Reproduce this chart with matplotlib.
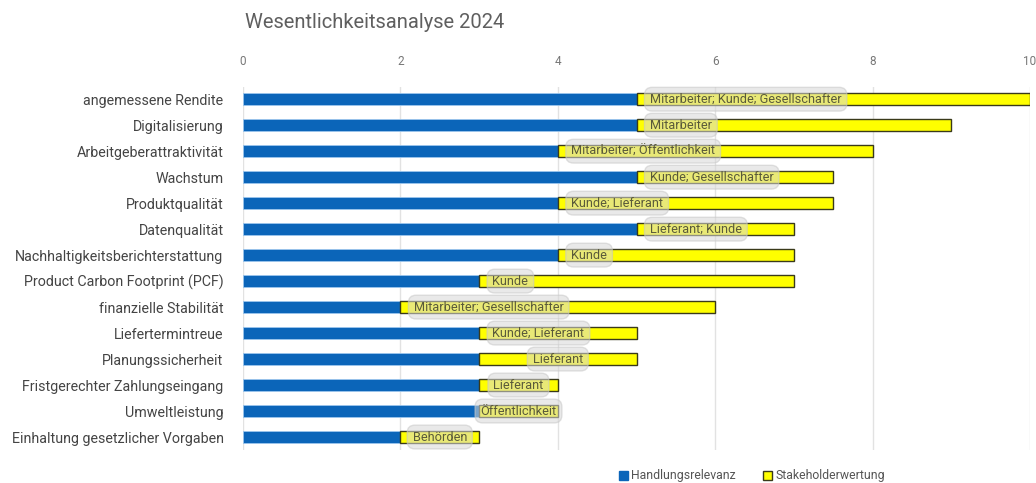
#!/usr/bin/env python3

import matplotlib
matplotlib.use('Agg')
from matplotlib import pyplot as plt
from matplotlib.patches import Patch

### data
themen = ['angemessene Rendite', 'Digitalisierung', 'Arbeitgeberattraktivität',
          'Wachstum', 'Produktqualität', 'Datenqualität',
          'Nachhaltigkeitsberichterstattung', 'Product Carbon Footprint (PCF)',
          'finanzielle Stabilität', 'Liefertermintreue', 'Planungssicherheit',
          'Fristgerechter Zahlungseingang', 'Umweltleistung',
          'Einhaltung gesetzlicher Vorgaben']
handlungsrelevanz = [5, 5, 4, 5, 4, 5, 4, 3, 2, 3, 3, 3, 3, 2]
stakeholderwertung = [5, 4, 4, 2.5, 3.5, 2, 3, 4, 4, 2, 2, 1, 1, 1]
stakeholder = ['Mitarbeiter; Kunde; Gesellschafter', 'Mitarbeiter',
               'Mitarbeiter; Öffentlichkeit', 'Kunde; Gesellschafter',
               'Kunde; Lieferant', 'Lieferant; Kunde', 'Kunde', 'Kunde',
               'Mitarbeiter; Gesellschafter', 'Kunde; Lieferant', 'Lieferant',
               'Lieferant', 'Öffentlichkeit', 'Behörden']
# where the label sits on the yellow segment
label_pos = ['left', 'left', 'left', 'left', 'left', 'left', 'left', 'left',
             'left', 'left', 'center', 'center', 'center', 'center']
xticks = [0, 2, 4, 6, 8, 10]

BLUE = '#0b65b9'
YELLOW = '#ffff00'
GREY = '#5f5f5f'

plt.rcParams['font.family'] = ['Roboto', 'DejaVu Sans']

fig = plt.figure(figsize=(10.36, 4.83), dpi=100)
ax = fig.add_axes([243 / 1036, 1 - 450 / 483, 787 / 1036, 363 / 483])

ypos = list(range(len(themen)))
ax.barh(ypos, handlungsrelevanz, height=0.45, color=BLUE,
        edgecolor='#9cc6ee', linewidth=0.6, zorder=2)
ax.barh(ypos, stakeholderwertung, left=handlungsrelevanz, height=0.45,
        color=YELLOW, edgecolor='#3a3a1a', linewidth=1.0, zorder=2)

for y, h, s, txt, pos in zip(ypos, handlungsrelevanz, stakeholderwertung,
                             stakeholder, label_pos):
    if pos == 'center':
        x, ha = h + s / 2, 'center'
    else:
        x, ha = h + 0.17, 'left'
    ax.text(x, y, txt, ha=ha, va='center', fontsize=9.2, color='#5a5a3a',
            zorder=3,
            bbox=dict(boxstyle='round,pad=0.42,rounding_size=0.6',
                      facecolor='#d8d8d8', edgecolor='#c8c8c8',
                      alpha=0.55, linewidth=1.0))

ax.set_xlim(0, 10)
ax.set_ylim(13.5, -0.47)
ax.set_xticks(xticks)
ax.set_xticklabels([str(t) for t in xticks])
ax.xaxis.tick_top()
ax.tick_params(axis='x', length=0, pad=14, labelsize=8.5, labelcolor='#777777')
ax.set_yticks(ypos)
ax.set_yticklabels(themen)
ax.tick_params(axis='y', length=0, pad=14, labelsize=10.3, labelcolor='#444444')
ax.grid(axis='x', color='#e2e2e2', linewidth=1.0, zorder=0)
for sp in ax.spines.values():
    sp.set_visible(False)

fig.text(245 / 1036, 1 - 22 / 483, 'Wesentlichkeitsanalyse 2024', ha='left',
         va='center', fontsize=14.5, color=GREY)

handles = [Patch(facecolor=BLUE, edgecolor=BLUE, label='Handlungsrelevanz'),
           Patch(facecolor=YELLOW, edgecolor='#3a3a1a', label='Stakeholderwertung')]
fig.legend(handles=handles, loc='center', bbox_to_anchor=(752 / 1036, 1 - 476 / 483),
           ncol=2, frameon=False, fontsize=8.8, handlelength=0.7, handleheight=0.7,
           handletextpad=0.3, columnspacing=2.2, labelcolor='#555555')

fig.savefig('out.png', dpi=100, facecolor='white')
